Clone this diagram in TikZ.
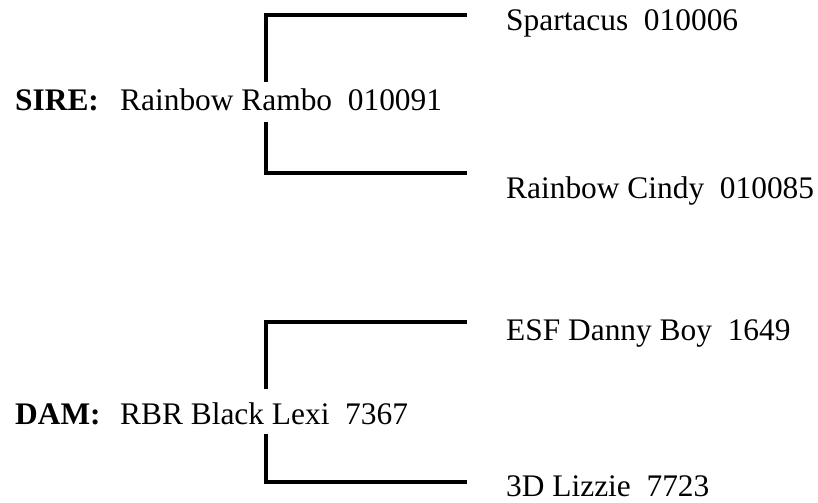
\documentclass[tikz,border=0pt]{standalone}
\usepackage{fontspec}
\setmainfont{Liberation Serif}
\begin{document}
\begin{tikzpicture}[x=1bp,y=-1bp,
  lbl/.style={inner sep=0pt, anchor=base west, font=\fontsize{31.4bp}{36bp}\selectfont},
  role/.style={inner sep=0pt, anchor=base west, font=\fontsize{31.4bp}{36bp}\selectfont\bfseries},
  bracket/.style={line width=3.3bp, line join=miter, line cap=butt}]
\useasboundingbox (0,0) rectangle (818,503);
% sire block
\node[role] (sirelbl) at (15,111) {SIRE:};
\node[lbl] (sire) at (120,111) {Rainbow Rambo\hspace{0.5em}010091};
\node[lbl] (ss) at (506,31) {Spartacus\hspace{0.5em}010006};
\node[lbl] (sd) at (506,199) {Rainbow Cindy\hspace{0.5em}010085};
\coordinate (s1) at (266,82);
\coordinate (s2) at (266,122);
\coordinate (ssend) at (467,15);
\coordinate (sdend) at (467,173);
\draw[bracket] (s1) |- (ssend);
\draw[bracket] (s2) |- (sdend);
% dam block
\node[role] (damlbl) at (15,424) {DAM:};
\node[lbl] (dam) at (120,424) {RBR Black Lexi\hspace{0.5em}7367};
\node[lbl] (ds) at (506,340) {ESF Danny Boy\hspace{0.5em}1649};
\node[lbl] (dd) at (506,496) {3D Lizzie\hspace{0.5em}7723};
\coordinate (d1) at (266,389);
\coordinate (d2) at (266,434);
\coordinate (dsend) at (467,322);
\coordinate (ddend) at (467,482);
\draw[bracket] (d1) |- (dsend);
\draw[bracket] (d2) |- (ddend);
\end{tikzpicture}
\end{document}
